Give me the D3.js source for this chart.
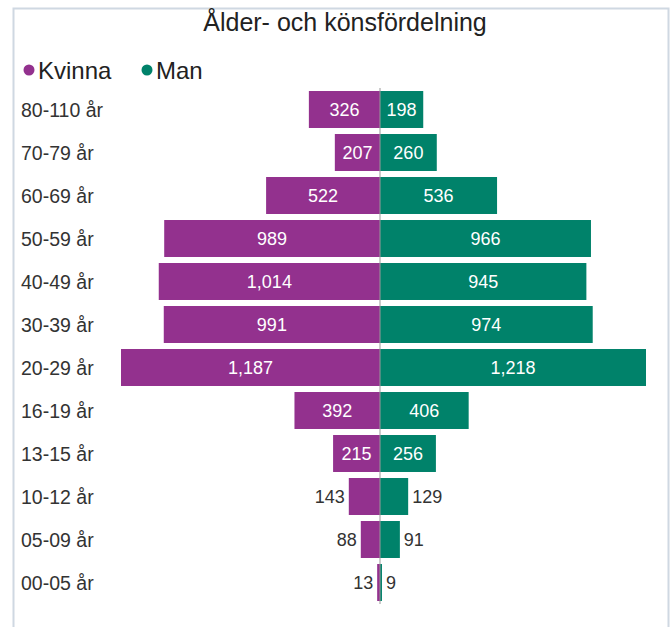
<!DOCTYPE html>
<html>
<head>
<meta charset="utf-8">
<script src="https://cdn.jsdelivr.net/npm/d3@7"></script>
<style>
  body { margin: 0; background: #fff; }
  text { font-family: "Liberation Sans", Arial, sans-serif; }
</style>
</head>
<body>
<div id="chart"></div>
<script>
// age groups, top to bottom
var ageGroups = ["80-110 år", "70-79 år", "60-69 år", "50-59 år", "40-49 år", "30-39 år",
                 "20-29 år", "16-19 år", "13-15 år", "10-12 år", "05-09 år", "00-05 år"];
var kvinna = [326, 207, 522, 989, 1014, 991, 1187, 392, 215, 143, 88, 13];
var man = [198, 260, 536, 966, 945, 974, 1218, 406, 256, 129, 91, 9];
var seriesNames = ["Kvinna", "Man"];
var colors = ["#93318e", "#00826a"];

var W = 671, H = 627;
var cx = 380;
var fmt = d3.format(",");

var svg = d3.select("#chart").append("svg")
    .attr("width", W)
    .attr("height", H);

// frame
svg.append("path")
    .attr("d", "M 13.5 " + H + " L 13.5 8.5 L 668.5 8.5 L 668.5 " + H)
    .attr("fill", "none")
    .attr("stroke", "#cfd8e2")
    .attr("stroke-width", 2);

svg.append("text")
    .attr("x", 345)
    .attr("y", 31)
    .attr("text-anchor", "middle")
    .style("font-size", "25px")
    .attr("fill", "#222")
    .text("Ålder- och könsfördelning");

// legend
var legend = svg.selectAll(".legend")
    .data(seriesNames)
    .enter().append("g")
    .attr("transform", function(d, i) { return "translate(" + (29 + i * 118) + ",70)"; });
legend.append("circle")
    .attr("r", 5.5)
    .attr("fill", function(d, i) { return colors[i]; });
legend.append("text")
    .attr("x", 9)
    .attr("y", 8.5)
    .style("font-size", "24px")
    .attr("fill", "#222")
    .text(function(d) { return d; });

var y = d3.scaleBand()
    .domain(ageGroups)
    .range([88, 604])
    .paddingInner(0.14)
    .paddingOuter(0.07);

var xL = d3.scaleLinear().domain([0, 1187]).range([cx, 121]);
var xR = d3.scaleLinear().domain([0, 1218]).range([cx, 646]);

// category labels
svg.selectAll(".cat")
    .data(ageGroups)
    .enter().append("text")
    .attr("x", 21)
    .attr("y", function(d) { return y(d) + y.bandwidth() / 2; })
    .attr("dy", "0.36em")
    .style("font-size", "19.5px")
    .attr("fill", "#333")
    .text(function(d) { return d; });

var rows = ageGroups.map(function(a, i) { return {age: a, k: kvinna[i], m: man[i]}; });

svg.selectAll(".barK")
    .data(rows)
    .enter().append("rect")
    .attr("x", function(d) { return xL(d.k); })
    .attr("y", function(d) { return y(d.age); })
    .attr("width", function(d) { return cx - xL(d.k); })
    .attr("height", y.bandwidth())
    .attr("fill", colors[0]);

svg.selectAll(".barM")
    .data(rows)
    .enter().append("rect")
    .attr("x", cx)
    .attr("y", function(d) { return y(d.age); })
    .attr("width", function(d) { return xR(d.m) - cx; })
    .attr("height", y.bandwidth())
    .attr("fill", colors[1]);

// center line
svg.append("line")
    .attr("x1", cx).attr("x2", cx)
    .attr("y1", 88).attr("y2", 604)
    .attr("stroke", "#999")
    .attr("stroke-width", 1);

function inside(v) { return v >= 150; }

svg.selectAll(".lblK")
    .data(rows)
    .enter().append("text")
    .attr("x", function(d) { return inside(d.k) ? (xL(d.k) + cx) / 2 : xL(d.k) - 4; })
    .attr("y", function(d) { return y(d.age) + y.bandwidth() / 2; })
    .attr("dy", "0.36em")
    .attr("text-anchor", function(d) { return inside(d.k) ? "middle" : "end"; })
    .style("font-size", "18px")
    .attr("fill", function(d) { return inside(d.k) ? "#fff" : "#333"; })
    .text(function(d) { return fmt(d.k); });

svg.selectAll(".lblM")
    .data(rows)
    .enter().append("text")
    .attr("x", function(d) { return inside(d.m) ? (xR(d.m) + cx) / 2 : xR(d.m) + 4; })
    .attr("y", function(d) { return y(d.age) + y.bandwidth() / 2; })
    .attr("dy", "0.36em")
    .attr("text-anchor", function(d) { return inside(d.m) ? "middle" : "start"; })
    .style("font-size", "18px")
    .attr("fill", function(d) { return inside(d.m) ? "#fff" : "#333"; })
    .text(function(d) { return fmt(d.m); });
</script>
</body>
</html>
